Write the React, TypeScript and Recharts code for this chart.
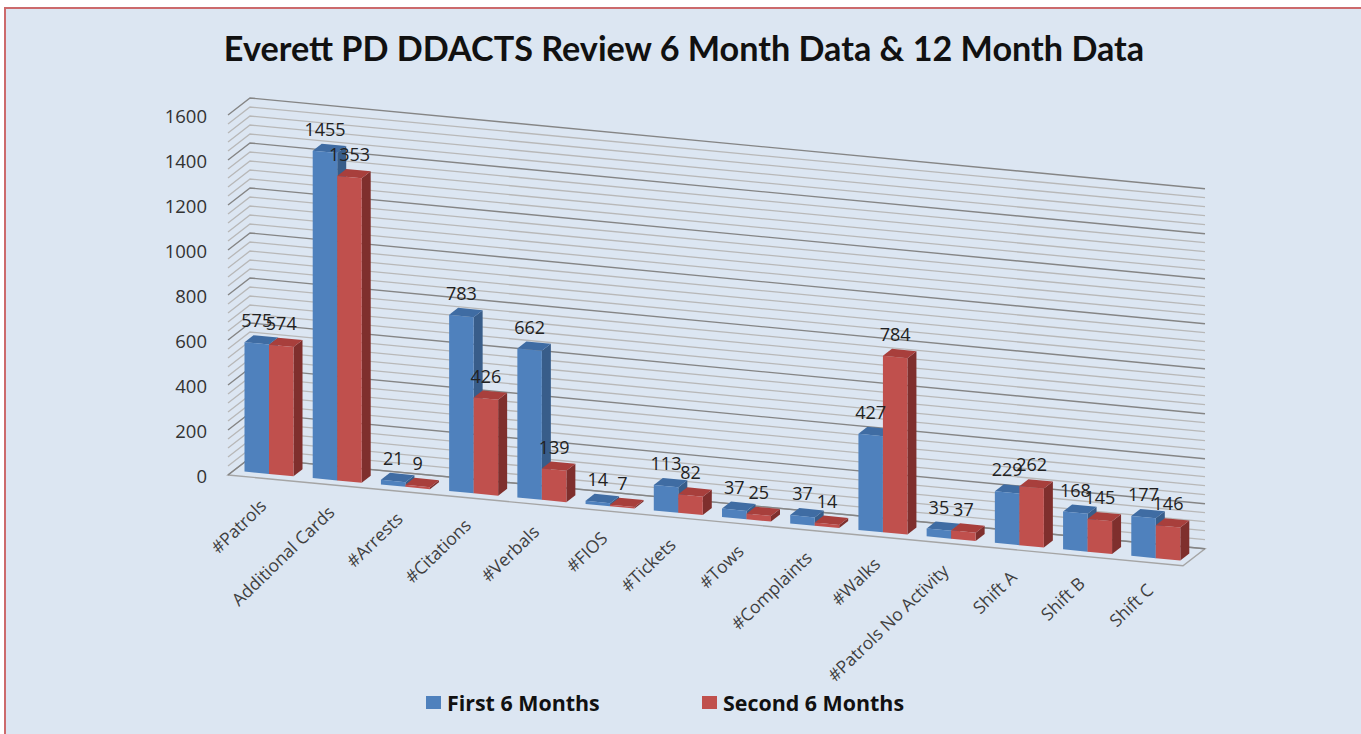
import { BarChart, Bar, XAxis, YAxis, CartesianGrid, Legend, LabelList } from 'recharts';

const categories = ['#Patrols', 'Additional Cards', '#Arrests', '#Citations', '#Verbals', '#FIOS', '#Tickets', '#Tows', '#Complaints', '#Walks', '#Patrols No Activity', 'Shift A', 'Shift B', 'Shift C'];
const firstSixMonths = [575, 1455, 21, 783, 662, 14, 113, 37, 37, 427, 35, 229, 168, 177];
const secondSixMonths = [574, 1353, 9, 426, 139, 7, 82, 25, 14, 784, 37, 262, 145, 146];
const yTicks = [0, 200, 400, 600, 800, 1000, 1200, 1400, 1600];
const gridValues = [0, 40, 80, 120, 160, 200, 240, 280, 320, 360, 400, 440, 480, 520, 560, 600, 640, 680, 720, 760, 800, 840, 880, 920, 960, 1000, 1040, 1080, 1120, 1160, 1200, 1240, 1280, 1320, 1360, 1400, 1440, 1480, 1520, 1560, 1600];

const chartData = categories.map((name, i) => ({ name, first: firstSixMonths[i], second: secondSixMonths[i] }));

// fake 3D projection, the plot is sheared down to the right
const PLOT_LEFT = 228;
const PLOT_BOTTOM = 475;
const SLOPE = 0.095;
const WALL_DX = 22;
const WALL_DY = -17;
const BAR_DX = 6.5;
const BAR_DY = -5;
const DEPTH_X = 9;
const DEPTH_Y = -7;
const FONT = '"Open Sans", sans-serif';

const shear = (x: number) => (x - PLOT_LEFT) * SLOPE;

const Bar3D = (props: any, dark: string, lid: string) => {
  const { x, y, width, height, fill } = props;
  const x0 = x + BAR_DX;
  const x1 = x0 + width;
  const top0 = y + shear(x0) + BAR_DY;
  const top1 = y + shear(x1) + BAR_DY;
  const bot0 = top0 + height;
  const bot1 = top1 + height;
  return (
    <g>
      <polygon points={`${x1},${top1} ${x1 + DEPTH_X},${top1 + DEPTH_Y} ${x1 + DEPTH_X},${bot1 + DEPTH_Y} ${x1},${bot1}`} fill={dark} />
      <polygon points={`${x0},${top0} ${x1},${top1} ${x1 + DEPTH_X},${top1 + DEPTH_Y} ${x0 + DEPTH_X},${top0 + DEPTH_Y}`} fill={lid} />
      <polygon points={`${x0},${top0} ${x1},${top1} ${x1},${bot1} ${x0},${bot0}`} fill={fill} />
    </g>
  );
};

const BarValue = (props: any) => {
  const { x, y, width, value } = props;
  const cx = x + BAR_DX + width / 2;
  return (
    <text x={cx} y={y + shear(cx) + BAR_DY - 23} textAnchor="middle" dominantBaseline="central" fontFamily={FONT} fontSize={18} fill="#222">
      {value}
    </text>
  );
};

const GridLine = (props: any) => {
  const { x1, x2, y1 } = props;
  const isFloor = Math.abs(y1 - PLOT_BOTTOM) < 1;
  const isMajor = Math.round((PLOT_BOTTOM - y1) / 9) % 5 === 0;
  const color = isMajor ? '#858585' : '#b8b8b8';
  const width = isMajor ? 1.4 : 1.3;
  const backY = y1 + WALL_DY;
  const backRightY = backY + (x2 - x1) * SLOPE;
  return (
    <g>
      {isFloor && (
        <polygon
          points={`${x1},${y1} ${x2},${y1 + (x2 - x1) * SLOPE} ${x2 + WALL_DX},${backRightY} ${x1 + WALL_DX},${backY}`}
          fill="none"
          stroke="#a5a5a5"
          strokeWidth={1.4}
        />
      )}
      <polyline points={`${x1},${y1} ${x1 + WALL_DX},${backY} ${x2 + WALL_DX},${backRightY}`} fill="none" stroke={color} strokeWidth={width} />
    </g>
  );
};

const CategoryTick = (props: any) => {
  const { x, payload } = props;
  const endX = x + 5.5;
  const endY = PLOT_BOTTOM + shear(x) + 29;
  return (
    <text x={endX} y={endY} textAnchor="end" fontFamily={FONT} fontSize={17.5} fill="#404040" transform={`rotate(-44 ${endX} ${endY})`}>
      {payload.value}
    </text>
  );
};

const LegendRow = (props: any) => {
  const { payload } = props;
  return (
    <div style={{ display: 'flex', fontFamily: FONT, fontWeight: 700, fontSize: 21.4, color: '#111', paddingLeft: 426 }}>
      {payload.map((item: any) => (
        <div key={item.value} style={{ display: 'flex', alignItems: 'center', width: 276 }}>
          <span style={{ width: 15, height: 13, background: item.color, marginRight: 6 }} />
          {item.value}
        </div>
      ))}
    </div>
  );
};

export default function App() {
  return (
    <div style={{ position: 'absolute', left: 0, top: 0, width: 1361, height: 734, background: '#fff', overflow: 'hidden' }}>
      <div style={{ position: 'absolute', left: 4, top: 7, width: 1400, height: 760, background: '#dce6f2', border: '2px solid #cc6a6c' }} />
      <div style={{ position: 'absolute', left: 0, top: 25, width: 1368, textAlign: 'center', fontFamily: '"Lato", sans-serif', fontWeight: 700, fontSize: 34.2, lineHeight: '46px', color: '#111' }}>
        Everett PD DDACTS Review 6 Month Data &amp; 12 Month Data
      </div>
      <div style={{ position: 'absolute', left: 0, top: 0 }}>
        <BarChart width={1361} height={734} data={chartData} barGap={0} barSize={24.5} margin={{ top: 115, right: 178, bottom: 159, left: 168 }}>
          <CartesianGrid vertical={false} horizontal={GridLine} horizontalValues={gridValues} />
          <XAxis dataKey="name" interval={0} height={100} axisLine={false} tickLine={false} tick={CategoryTick} />
          <YAxis width={60} domain={[0, 1600]} ticks={yTicks} interval={0} axisLine={false} tickLine={false} tickMargin={15} tick={{ fontFamily: FONT, fontSize: 18.5, fill: '#333', dy: 1 }} />
          <Legend layout="horizontal" verticalAlign="middle" content={LegendRow} wrapperStyle={{ top: 688, left: 0, width: 1361 }} />
          <Bar dataKey="first" name="First 6 Months" fill="#4f81bd" isAnimationActive={false} shape={(p: any) => Bar3D(p, '#385d8a', '#3f6ca3')}>
            <LabelList dataKey="first" content={BarValue} />
          </Bar>
          <Bar dataKey="second" name="Second 6 Months" fill="#c0504d" isAnimationActive={false} shape={(p: any) => Bar3D(p, '#7f2f2d', '#a83f3c')}>
            <LabelList dataKey="second" content={BarValue} />
          </Bar>
        </BarChart>
      </div>
    </div>
  );
}
